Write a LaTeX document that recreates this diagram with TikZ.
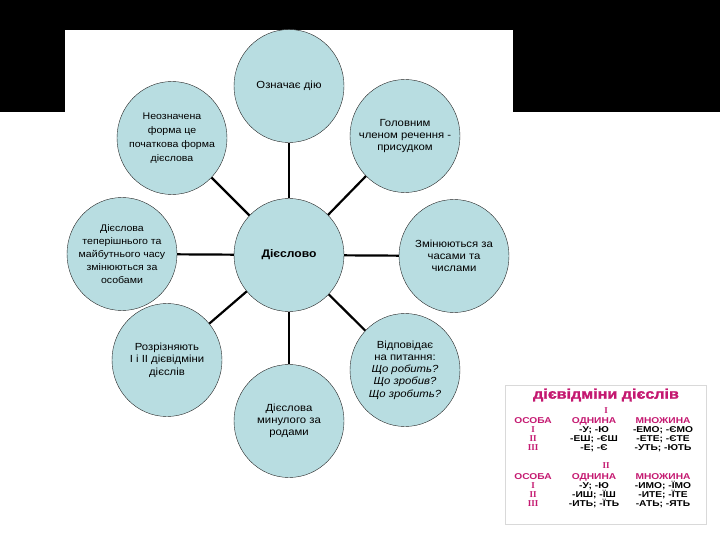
\documentclass[tikz,border=0pt]{standalone}
\usepackage{fontspec}
\setmainfont[FakeStretch=1.1]{Liberation Sans}
\newfontfamily\tablefont[FakeStretch=1.2]{Liberation Sans}
\newfontfamily\titlefont[FakeStretch=1.15,FakeBold=1.5]{Liberation Sans}
\newfontfamily\numfont{Liberation Serif}
\usetikzlibrary{shapes.geometric}
\definecolor{bubblefill}{RGB}{184,221,225}
\definecolor{tablepink}{RGB}{196,24,112}

\begin{document}
\begin{tikzpicture}
            [x=1pt,y=-1pt,
             bubble/.style={ellipse,draw=black!85,thin,fill=bubblefill,
               minimum width=110pt,minimum height=113pt,
               inner xsep=-15pt,inner ysep=0pt,align=center,
               font=\fontsize{10.3}{12.3}\selectfont},
             link/.style={line width=2.2pt},
             tabtitle/.style={inner sep=0pt,text=tablepink,font=\fontsize{14}{14}\selectfont\titlefont\bfseries},
             tabnum/.style={inner sep=0pt,text=tablepink,font=\fontsize{9}{9}\selectfont\numfont\bfseries},
             tabhead/.style={inner sep=0pt,text=tablepink,font=\fontsize{8.5}{8.5}\selectfont\tablefont\bfseries},
             tabcell/.style={inner sep=0pt,font=\fontsize{8.5}{8.5}\selectfont\tablefont\bfseries}]
            \useasboundingbox (0,0) rectangle (720,540);
            \fill[black] (0,0) rectangle (720,112);
            \fill[white] (65,30) rectangle (513,112);
            %
            \node[bubble,font=\fontsize{11}{12.5}\selectfont\bfseries] (verb) at (289,255) {Дієслово};
            \node[bubble] (action) at (289,86) {Означає дію};
            \node[bubble,font=\fontsize{9.6}{14}\selectfont] (infinitive) at (172,138) {Неозначена\\форма це\\початкова форма\\дієслова};
            \node[bubble] (predicate) at (405,136) {Головним\\членом речення -\\присудком};
            \node[bubble,font=\fontsize{9.6}{12.8}\selectfont] (person) at (122,254) {Дієслова\\теперішнього та\\майбутнього часу\\змінюються за\\особами};
            \node[bubble] (tense) at (454,256) {Змінюються за\\часами та\\числами};
            \node[bubble] (conjugation) at (167,360) {Розрізняють\\І і ІІ дієвідміни\\дієслів};
            \node[bubble] (past) at (289,421) {Дієслова\\минулого за\\родами};
            \node[bubble] (question) at (405,370) {Відповідає\\на питання:\\\textit{Що робить?}\\\textit{Що зробив?}\\\textit{Що зробить?}};
            %
            \draw[link] (verb) -- (action);
            \draw[link] (verb) -- (infinitive);
            \draw[link] (verb) -- (predicate);
            \draw[link] (verb) -- (person);
            \draw[link] (verb) -- (tense);
            \draw[link] (verb) -- (conjugation);
            \draw[link] (verb) -- (past);
            \draw[link] (verb) -- (question);
            %
            \draw[black!15] (505,385) rectangle (706,524);
            \node[tabtitle] (title) at (606,395) {дієвідміни дієслів};
            \node[tabnum] (groupI) at (606,411) {I};
            \node[tabhead] (personI) at (533,421) {ОСОБА};
            \node[tabhead] (singularI) at (594,421) {ОДНИНА};
            \node[tabhead] (pluralI) at (663,421) {МНОЖИНА};
            \node[tabnum] (firstI) at (533,430) {I};
            \node[tabnum] (secondI) at (533,439) {II};
            \node[tabnum] (thirdI) at (533,448) {III};
            \node[tabcell] (sgIa) at (594,430) {-У; -Ю};
            \node[tabcell] (sgIb) at (594,439) {-ЕШ; -ЄШ};
            \node[tabcell] (sgIc) at (594,448) {-Е; -Є};
            \node[tabcell] (plIa) at (663,430) {-ЕМО; -ЄМО};
            \node[tabcell] (plIb) at (663,439) {-ЕТЕ; -ЄТЕ};
            \node[tabcell] (plIc) at (663,448) {-УТЬ; -ЮТЬ};
            \node[tabnum] (groupII) at (606,466) {II};
            \node[tabhead] (personII) at (533,477) {ОСОБА};
            \node[tabhead] (singularII) at (594,477) {ОДНИНА};
            \node[tabhead] (pluralII) at (663,477) {МНОЖИНА};
            \node[tabnum] (firstII) at (533,486) {I};
            \node[tabnum] (secondII) at (533,495) {II};
            \node[tabnum] (thirdII) at (533,504) {III};
            \node[tabcell] (sgIIa) at (594,486) {-У; -Ю};
            \node[tabcell] (sgIIb) at (594,495) {-ИШ; -ЇШ};
            \node[tabcell] (sgIIc) at (594,504) {-ИТЬ; -ЇТЬ};
            \node[tabcell] (plIIa) at (663,486) {-ИМО; -ЇМО};
            \node[tabcell] (plIIb) at (663,495) {-ИТЕ; -ЇТЕ};
            \node[tabcell] (plIIc) at (663,504) {-АТЬ; -ЯТЬ};
        \end{tikzpicture}
\end{document}
